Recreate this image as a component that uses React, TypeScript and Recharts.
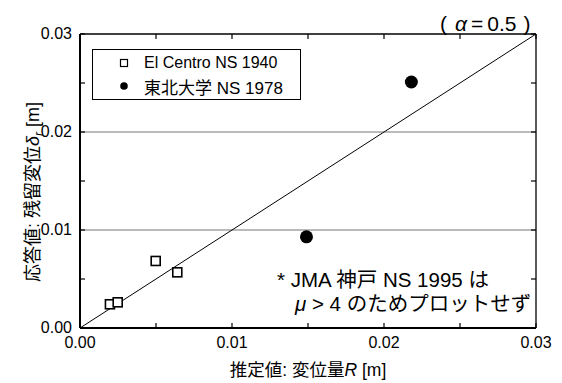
import React from 'react';
import { ScatterChart, Scatter, XAxis, YAxis, ReferenceLine, Legend } from 'recharts';

const FONT = "'Liberation Sans', Arial, 'Noto Sans CJK JP', sans-serif";

// 軸の目盛り (0.005 刻み、ラベルは 0.01 刻みのみ)
const xTicks = [0, 0.005, 0.01, 0.015, 0.02, 0.025, 0.03];
const yTicks = [0, 0.005, 0.01, 0.015, 0.02, 0.025, 0.03];
const gridValues = [0.01, 0.02];

const seriesNames = ['El Centro NS 1940', '東北大学 NS 1978'];

const elCentro = [
  { x: 0.00197, y: 0.00242 },
  { x: 0.00248, y: 0.00262 },
  { x: 0.00498, y: 0.00684 },
  { x: 0.0064, y: 0.00568 },
];

const tohoku = [
  { x: 0.0149, y: 0.0093 },
  { x: 0.0218, y: 0.0251 },
];

// 推定値 = 応答値 の線
const unityLine = [
  { x: 0, y: 0 },
  { x: 0.03, y: 0.03 },
];

const isMajor = (v: number) => Math.round(v * 1000) % 10 === 0;

const BottomTick = (p: any) => (
  <g>
    <line x1={p.x} x2={p.x} y1={p.y} y2={p.y - 5} stroke="#000" strokeWidth={1.2} />
    {isMajor(p.payload.value) && (
      <text x={p.x} y={p.y + 20} textAnchor="middle" fontSize={16} fontFamily={FONT} fill="#000">
        {p.payload.value.toFixed(2)}
      </text>
    )}
  </g>
);

const TopTick = (p: any) => (
  <line x1={p.x} x2={p.x} y1={p.y} y2={p.y + 5} stroke="#000" strokeWidth={1.2} />
);

const LeftTick = (p: any) => (
  <g>
    <line x1={p.x} x2={p.x + 5} y1={p.y} y2={p.y} stroke="#000" strokeWidth={1.2} />
    {isMajor(p.payload.value) && (
      <text x={p.x - 8} y={p.y + 5} textAnchor="end" fontSize={16} fontFamily={FONT} fill="#000">
        {p.payload.value.toFixed(2)}
      </text>
    )}
  </g>
);

const RightTick = (p: any) => (
  <line x1={p.x} x2={p.x - 5} y1={p.y} y2={p.y} stroke="#000" strokeWidth={1.2} />
);

const SquareShape = (p: any) => (
  <rect x={p.cx - 4.5} y={p.cy - 4.5} width={9} height={9} fill="#fff" stroke="#000" strokeWidth={1.6} />
);

const CircleShape = (p: any) => <circle cx={p.cx} cy={p.cy} r={6.5} fill="#000" />;

const XTitle = (p: any) => {
  const vb = p.viewBox;
  return (
    <text x={vb.x + vb.width / 2} y={vb.y + 48} textAnchor="middle" fontSize={17.5} fontFamily={FONT} fill="#000">
      推定値: 変位量<tspan fontStyle="italic">R</tspan> [m]
    </text>
  );
};

const YTitle = (p: any) => {
  const vb = p.viewBox;
  const cx = vb.x + vb.width - 41;
  const cy = vb.y + vb.height / 2 + 11;
  return (
    <text
      x={cx}
      y={cy}
      transform={`rotate(-90, ${cx}, ${cy})`}
      textAnchor="middle"
      fontSize={18}
      fontFamily={FONT}
      fill="#000"
    >
      応答値: 残留変位<tspan fontStyle="italic">δ</tspan>
      <tspan fontStyle="italic" fontSize={12} dy={4}>r</tspan>
      <tspan dy={-4}> [m]</tspan>
    </text>
  );
};

const renderLegend = (props: any) => {
  const payload = props.payload || [];
  return (
    <div
      style={{
        position: 'relative',
        width: 209,
        height: 51,
        border: '1px solid #000',
        background: '#fff',
        boxSizing: 'border-box',
        fontFamily: FONT,
        color: '#000',
      }}
    >
      {payload.map((entry: any, i: number) => (
        <div
          key={entry.value}
          style={{ position: 'absolute', left: 24, top: i === 0 ? 2 : 25, height: 22, display: 'flex', alignItems: 'center' }}
        >
          <svg width={14} height={14} style={{ marginRight: 13 }}>
            {entry.value === seriesNames[0] ? (
              <rect x={3.5} y={3.5} width={7} height={7} fill="#fff" stroke="#000" strokeWidth={1.2} />
            ) : (
              <circle cx={7} cy={7} r={3.8} fill="#000" />
            )}
          </svg>
          <span style={{ fontSize: i === 0 ? 16 : 17, whiteSpace: 'nowrap' }}>{entry.value}</span>
        </div>
      ))}
    </div>
  );
};

export default function App() {
  return (
    <div style={{ position: 'relative', width: 562, height: 383, background: '#fff' }}>
      <style>{'body{margin:0;background:#fff}'}</style>
      <ScatterChart width={562} height={383} margin={{ top: 33, right: 25, bottom: 25, left: 40 }}>
        <XAxis
          type="number"
          dataKey="x"
          domain={[0, 0.03]}
          ticks={xTicks}
          interval={0}
          height={30}
          tickSize={0}
          tickMargin={0}
          tickLine={false}
          allowDataOverflow
          axisLine={{ stroke: '#000', strokeWidth: 2 }}
          tick={(p: any) => <BottomTick {...p} />}
          label={<XTitle />}
        />
        <XAxis
          xAxisId="top"
          orientation="top"
          type="number"
          dataKey="x"
          domain={[0, 0.03]}
          ticks={xTicks}
          interval={0}
          height={1}
          tickSize={0}
          tickMargin={0}
          tickLine={false}
          allowDataOverflow
          axisLine={{ stroke: '#000', strokeWidth: 1.3 }}
          tick={(p: any) => <TopTick {...p} />}
        />
        <YAxis
          type="number"
          dataKey="y"
          domain={[0, 0.03]}
          ticks={yTicks}
          interval={0}
          width={40}
          tickSize={0}
          tickMargin={0}
          tickLine={false}
          allowDataOverflow
          axisLine={{ stroke: '#000', strokeWidth: 2 }}
          tick={(p: any) => <LeftTick {...p} />}
          label={<YTitle />}
        />
        <YAxis
          yAxisId="right"
          orientation="right"
          type="number"
          dataKey="y"
          domain={[0, 0.03]}
          ticks={yTicks}
          interval={0}
          width={1}
          tickSize={0}
          tickMargin={0}
          tickLine={false}
          allowDataOverflow
          axisLine={{ stroke: '#000', strokeWidth: 1.3 }}
          tick={(p: any) => <RightTick {...p} />}
        />
        {gridValues.map((v) => (
          <ReferenceLine key={v} y={v} stroke="#a3a3a3" strokeWidth={1.3} />
        ))}
        <ReferenceLine segment={unityLine} stroke="#000" strokeWidth={1} />
        <Legend
          layout="horizontal"
          verticalAlign="middle"
          align="center"
          wrapperStyle={{ left: 92, top: 49, width: 'auto' }}
          content={renderLegend}
        />
        <Scatter name={seriesNames[0]} data={elCentro} shape={SquareShape} isAnimationActive={false} />
        <Scatter name={seriesNames[1]} data={tohoku} shape={CircleShape} isAnimationActive={false} />
      </ScatterChart>
      <svg
        width={562}
        height={383}
        style={{ position: 'absolute', left: 0, top: 0, pointerEvents: 'none' }}
        fontFamily={FONT}
      >
        <text x={440} y={31} fontSize={21} fill="#000">
          <tspan>(</tspan>
          <tspan dx={8} fontStyle="italic">α</tspan>
          <tspan dx={4}>=</tspan>
          <tspan dx={4}>0.5</tspan>
          <tspan dx={7}>)</tspan>
        </text>
        <text x={277} y={287} fontSize={20.5} fill="#000">
          * JMA 神戸 NS 1995 は
        </text>
        <text x={295} y={311} fontSize={20.5} fill="#000">
          <tspan fontStyle="italic">μ</tspan> &gt; 4 のためプロットせず
        </text>
      </svg>
    </div>
  );
}
